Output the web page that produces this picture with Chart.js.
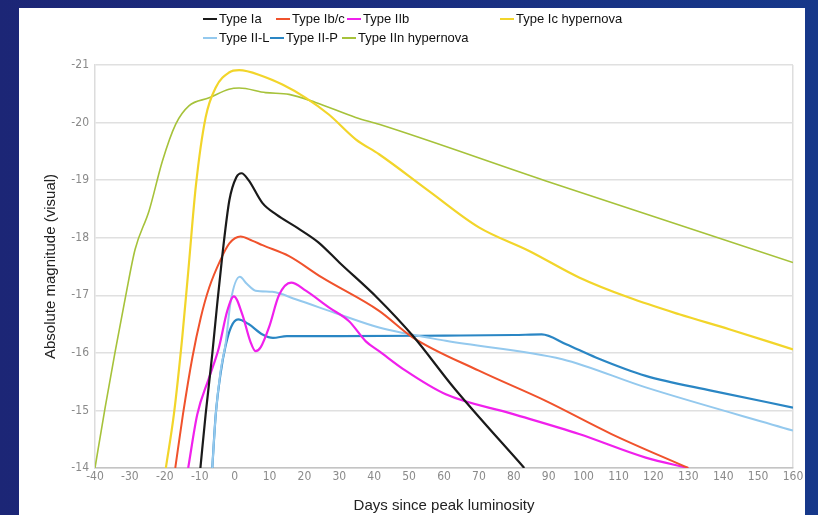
<!DOCTYPE html>
<html>
<head>
<meta charset="utf-8">
<script src="https://cdn.jsdelivr.net/npm/chart.js@4.4.1/dist/chart.umd.min.js"></script>
<style>
  html, body { margin: 0; padding: 0; }
  body { width: 818px; height: 515px; overflow: hidden; position: relative;
         background: linear-gradient(90deg, #1c2676 0%, #1a2e80 50%, #16388a 100%); }
  #panel { position: absolute; left: 19px; top: 8px; width: 786px; height: 507px; background: #ffffff; }
  #c { position: absolute; left: 0; top: 0; }
  .lg { position: absolute; height: 16px; line-height: 16px; font-family: "Liberation Sans", Arial, sans-serif;
        font-size: 13px; color: #111; white-space: nowrap; }
  .mk { position: absolute; width: 14px; height: 2px; }
</style>
</head>
<body>
<div id="panel"></div>
<canvas id="c" width="818" height="515"></canvas>
<div id="legend"></div>
<script>
// ---- Data (days since peak, absolute magnitude) ----
const xTicks = [-40,-30,-20,-10,0,10,20,30,40,50,60,70,80,90,100,110,120,130,140,150,160];
const yTicks = [-21,-20,-19,-18,-17,-16,-15,-14];

const iaDays = [-9.8,-8.3,-6.4,-5,-3.5,-1.5,0.5,2,4,8,12,18,24,30,41,51,63,83];
const iaMag  = [-14,-14.93,-15.98,-16.84,-17.7,-18.65,-19.05,-19.12,-19.0,-18.6,-18.4,-18.17,-17.92,-17.57,-16.95,-16.3,-15.38,-14];

const ibcDays = [-17,-14.8,-12.1,-9.7,-7.3,-4,-1.5,1.7,5,8,15.6,25,41.4,51,70,89,108,130];
const ibcMag  = [-14,-14.93,-15.92,-16.61,-17.13,-17.62,-17.9,-18.02,-17.95,-17.87,-17.68,-17.31,-16.73,-16.27,-15.69,-15.17,-14.59,-14];

const iibDays = [-13.3,-10.7,-7.3,-4.5,-2.1,-0.2,2.2,4.5,6,7.5,9.9,12.7,16.2,20.4,27,32.8,37.6,41.4,49,60.5,79.6,98.7,117.8,130];
const iibMag  = [-14,-14.93,-15.57,-16.09,-16.73,-16.98,-16.67,-16.2,-16.03,-16.1,-16.45,-17.0,-17.22,-17.08,-16.79,-16.55,-16.2,-16.03,-15.69,-15.28,-14.94,-14.59,-14.18,-14];

const icDays = [-19.7,-17.4,-15,-13.3,-11.1,-8.3,-5.4,-1.6,1.3,7.9,13.7,20.4,27,34.7,41.4,55.7,70,84.4,98.7,113,127.4,141.7,160];
const icMag  = [-14,-14.93,-16.27,-17.4,-18.9,-20.09,-20.61,-20.87,-20.91,-20.81,-20.66,-20.43,-20.14,-19.71,-19.45,-18.81,-18.18,-17.77,-17.31,-16.96,-16.67,-16.41,-16.06];

const iilDays = [-6.4,-5.4,-4,-2.6,-1.1,1.5,3.5,6,10.8,17.5,29.9,41.4,60.5,93.9,117.8,160];
const iilMag  = [-14,-14.93,-15.69,-16.15,-16.9,-17.32,-17.2,-17.08,-17.06,-16.93,-16.67,-16.44,-16.21,-15.89,-15.4,-14.65];

const iipDays = [-6.4,-5.4,-4,-2.6,-1,1,4,8,11,15,30,60,80,88,95,103.5,117.8,136.9,160];
const iipMag  = [-14,-14.93,-15.65,-16.12,-16.45,-16.58,-16.5,-16.32,-16.26,-16.29,-16.29,-16.3,-16.31,-16.32,-16.15,-15.92,-15.6,-15.34,-15.05];

const iinDays = [-40,-37.1,-34.2,-31.3,-28.5,-24.5,-20.7,-16.9,-13.1,-7.3,-1.6,1.3,8.9,15.6,23.2,34.7,41.4,89,160];
const iinMag  = [-14,-15.05,-16.03,-16.96,-17.8,-18.47,-19.33,-19.97,-20.29,-20.43,-20.58,-20.6,-20.52,-20.49,-20.35,-20.09,-19.97,-18.99,-17.57];

const seriesNames  = ["Type Ia","Type Ib/c","Type IIb","Type Ic hypernova","Type II-L","Type II-P","Type IIn hypernova"];
const seriesColors = ["#1a1a1a","#f0522c","#f020ec","#f2d52a","#94c9ee","#2a86c4","#a6c23a"];
const seriesWidths = [2.2,2,2.2,2.2,2,2.2,1.6];
const seriesDays = [iaDays, ibcDays, iibDays, icDays, iilDays, iipDays, iinDays];
const seriesMags = [iaMag, ibcMag, iibMag, icMag, iilMag, iipMag, iinMag];

const datasets = seriesNames.map((name, i) => ({
  label: name,
  data: seriesDays[i].map((d, k) => ({x: d, y: seriesMags[i][k]})),
  borderColor: seriesColors[i],
  backgroundColor: seriesColors[i],
  borderWidth: seriesWidths[i],
  pointRadius: 0,
  fill: false,
  cubicInterpolationMode: 'monotone'
}));

const tickFont = {family: "'Liberation Sans Narrow', 'DejaVu Sans Condensed', 'Liberation Sans', sans-serif", size: 12};
const titleFont = {family: "'Liberation Sans', Arial, sans-serif", size: 15};

new Chart(document.getElementById('c'), {
  type: 'line',
  data: {datasets},
  options: {
    responsive: false,
    animation: false,
    devicePixelRatio: 1,
    layout: {padding: {left: 0, top: 65, right: 25, bottom: 0}},
    plugins: {legend: {display: false}, tooltip: {enabled: false}, title: {display: false}},
    scales: {
      x: {
        type: 'linear',
        min: xTicks[0], max: xTicks[xTicks.length - 1],
        afterFit: s => { s.height = 47; },
        afterBuildTicks: s => { s.ticks = xTicks.map(v => ({value: v})); },
        ticks: {font: tickFont, color: '#8a8a8a', padding: 2, maxRotation: 0, autoSkip: false},
        grid: {
          drawTicks: false,
          color: c => (c.tick && (c.tick.value === 160)) ? '#dedede' : 'rgba(0,0,0,0)',
          lineWidth: 1.5
        },
        border: {display: true, color: '#c4c4c4', width: 1.5},
        title: {display: true, text: 'Days since peak luminosity', font: titleFont, color: '#222', padding: {top: 0, bottom: 0}}
      },
      y: {
        type: 'linear',
        reverse: true,
        min: yTicks[0], max: yTicks[yTicks.length - 1],
        afterFit: s => { s.width = 95; },
        afterBuildTicks: s => { s.ticks = yTicks.map(v => ({value: v})); },
        ticks: {font: tickFont, color: '#8a8a8a', padding: 6, callback: v => String(v)},
        grid: {drawTicks: false, color: '#e0e0e0', lineWidth: 1.5},
        border: {display: true, color: '#dcdcdc', width: 1.5},
        title: {display: true, text: 'Absolute magnitude (visual)', font: titleFont, color: '#222', padding: {top: 42, bottom: 0}}
      }
    }
  }
});

// ---- Legend (two rows, as in the reference) ----
const legendPos = [[203,19],[276,19],[347,19],[500,19],[203,38],[270,38],[342,38]];
const lg = document.getElementById('legend');
seriesNames.forEach((name, i) => {
  const [lx, ly] = legendPos[i];
  const mk = document.createElement('div');
  mk.className = 'mk';
  mk.style.left = lx + 'px';
  mk.style.top = (ly - 1) + 'px';
  mk.style.background = seriesColors[i];
  lg.appendChild(mk);
  const t = document.createElement('div');
  t.className = 'lg';
  t.style.left = (lx + 16) + 'px';
  t.style.top = (ly - 8) + 'px';
  t.textContent = name;
  lg.appendChild(t);
});
</script>
</body>
</html>
